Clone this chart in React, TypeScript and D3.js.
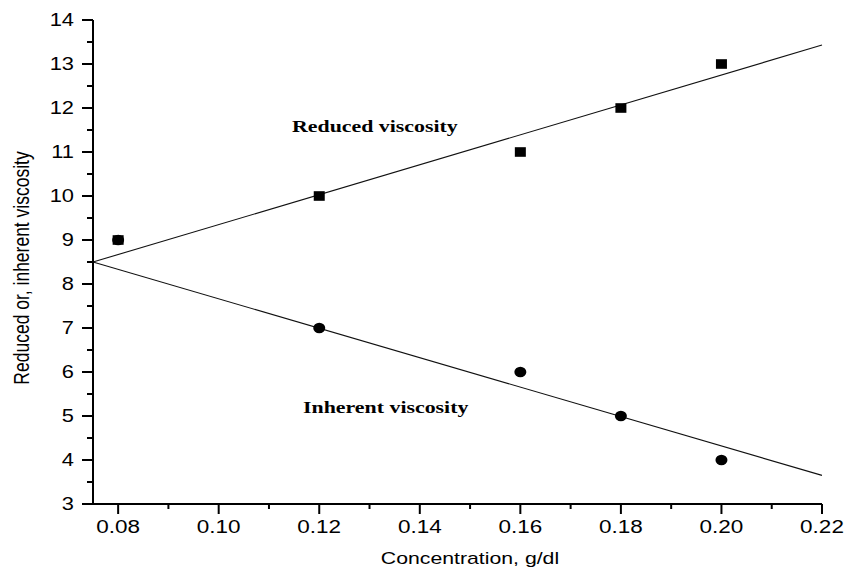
import React, { useEffect, useRef } from 'react';
import * as d3 from 'd3';

// concentration (g/dl)
const concentrations = [0.08, 0.12, 0.16, 0.18, 0.2];
const reducedValues = [9, 10, 11, 12, 13];
const inherentValues = [9, 7, 6, 5, 4];

// fitted straight lines, value at the two ends of the x range
const fitX = [0.075, 0.22];
const reducedFit = [8.5, 13.43];
const inherentFit = [8.5, 3.65];

const xTicks = [0.08, 0.1, 0.12, 0.14, 0.16, 0.18, 0.2, 0.22];
const xMinorTicks = [0.09, 0.11, 0.13, 0.15, 0.17, 0.19, 0.21];
const yTicks = [3, 4, 5, 6, 7, 8, 9, 10, 11, 12, 13, 14];
const yMinorTicks = [3.5, 4.5, 5.5, 6.5, 7.5, 8.5, 9.5, 10.5, 11.5, 12.5, 13.5];

const SANS = '"Liberation Sans", Arial, sans-serif';
const SERIF = '"Liberation Serif", "Times New Roman", serif';
const SX = 1.25; // the original picture is stretched sideways

export default function App() {
  const svgRef = useRef<SVGSVGElement | null>(null);

  useEffect(() => {
    const width = 845;
    const height = 572;
    const svg = d3.select(svgRef.current);
    svg.selectAll('*').remove();
    svg.attr('width', width).attr('height', height);

    const x = d3.scaleLinear().domain([0.075, 0.22]).range([93, 822]);
    const y = d3.scaleLinear().domain([3, 14]).range([504, 20]);

    const label = (
      tx: number,
      ty: number,
      txt: string,
      size: number,
      anchor: string,
      family = SANS,
      weight = 'normal',
      rot = 0
    ) =>
      svg
        .append('text')
        .attr('transform', `translate(${tx},${ty}) scale(${SX},1) rotate(${rot})`)
        .attr('text-anchor', anchor)
        .attr('font-family', family)
        .attr('font-weight', weight)
        .attr('font-size', size)
        .attr('fill', '#000')
        .text(txt);

    // fit lines
    const line = d3
      .line<number>()
      .x((_, i) => x(fitX[i]))
      .y((d) => y(d));
    [reducedFit, inherentFit].forEach((f) => {
      svg
        .append('path')
        .attr('d', line(f))
        .attr('fill', 'none')
        .attr('stroke', '#111')
        .attr('stroke-width', 1.1);
    });

    // markers
    concentrations.forEach((c, i) => {
      svg
        .append('ellipse')
        .attr('cx', x(c))
        .attr('cy', y(inherentValues[i]))
        .attr('rx', 6)
        .attr('ry', 5.3)
        .attr('fill', '#000');
      svg
        .append('rect')
        .attr('x', x(c) - 5.5)
        .attr('y', y(reducedValues[i]) - 4.8)
        .attr('width', 11)
        .attr('height', 9.6)
        .attr('fill', '#000');
    });

    // axes
    const axisG = svg.append('g').attr('stroke', '#000').attr('stroke-width', 2);
    axisG
      .append('line')
      .attr('x1', x(0.075))
      .attr('x2', x(0.075))
      .attr('y1', y(14))
      .attr('y2', y(3) + 1);
    axisG
      .append('line')
      .attr('x1', x(0.075) - 1)
      .attr('x2', x(0.22))
      .attr('y1', y(3))
      .attr('y2', y(3));

    yTicks.forEach((t) => {
      axisG
        .append('line')
        .attr('x1', x(0.075) - 11)
        .attr('x2', x(0.075))
        .attr('y1', y(t))
        .attr('y2', y(t));
      label(74, y(t) + 6, String(t), 17.5, 'end');
    });
    yMinorTicks.forEach((t) => {
      axisG
        .append('line')
        .attr('x1', x(0.075) - 6)
        .attr('x2', x(0.075))
        .attr('y1', y(t))
        .attr('y2', y(t));
    });
    xTicks.forEach((t) => {
      axisG
        .append('line')
        .attr('x1', x(t))
        .attr('x2', x(t))
        .attr('y1', y(3))
        .attr('y2', y(3) + 10);
      label(x(t), 533, t.toFixed(2), 18, 'middle');
    });
    xMinorTicks.forEach((t) => {
      axisG
        .append('line')
        .attr('x1', x(t))
        .attr('x2', x(t))
        .attr('y1', y(3))
        .attr('y2', y(3) + 5);
    });

    // axis titles
    label(470, 564, 'Concentration, g/dl', 17, 'middle');
    label(29, 268, 'Reduced or, inherent viscosity', 17.5, 'middle', SANS, 'normal', -90);

    // annotations
    label(292, 132, 'Reduced viscosity', 17.5, 'start', SERIF, 'bold');
    label(303, 413, 'Inherent viscosity', 17.5, 'start', SERIF, 'bold');
  }, []);

  return (
    <div style={{ position: 'absolute', left: 0, top: 0, background: '#fff' }}>
      <svg ref={svgRef} style={{ display: 'block' }} />
    </div>
  );
}
